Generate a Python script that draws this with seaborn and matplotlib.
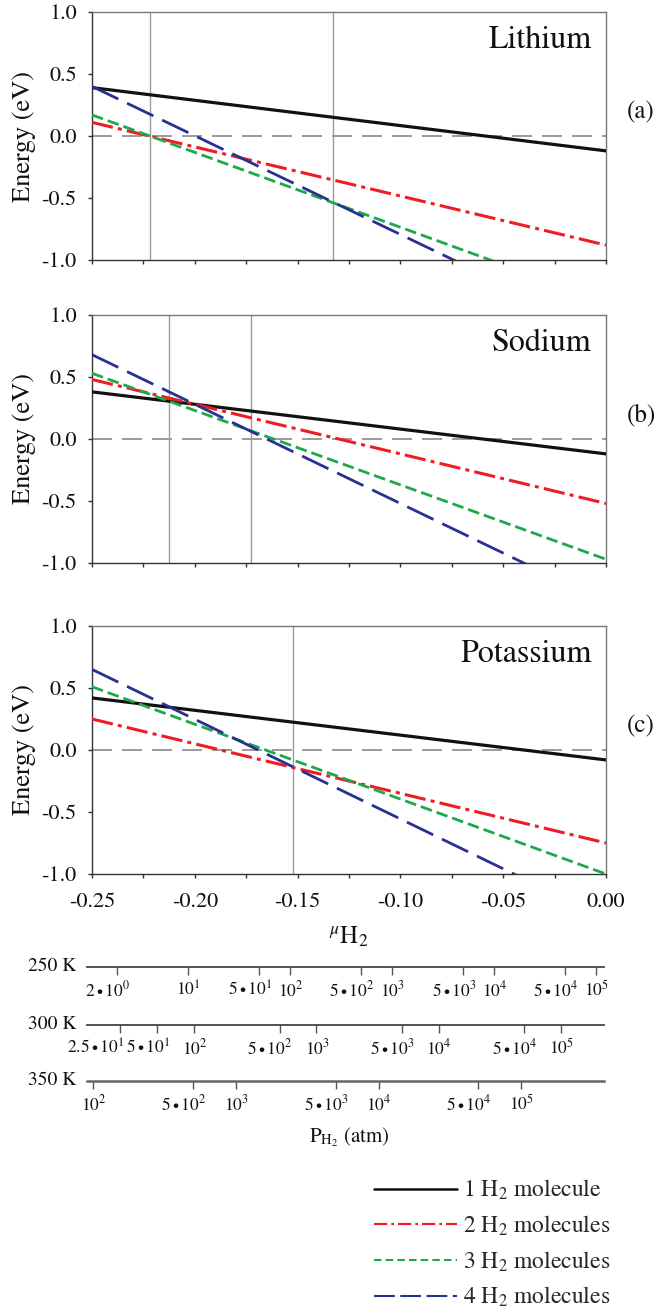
import matplotlib
matplotlib.use("Agg")
import matplotlib.pyplot as plt
import numpy as np
import pandas as pd
import seaborn as sns
from matplotlib.lines import Line2D
from matplotlib.ticker import FormatStrFormatter, MultipleLocator

# ---- data ----
MU_ENDS = [-0.25, 0.0]  # H2 chemical potential range (eV)
N_H2 = ["1", "2", "3", "4"]
SERIES_LABELS = [
    "1 H$_2$ molecule",
    "2 H$_2$ molecules",
    "3 H$_2$ molecules",
    "4 H$_2$ molecules",
]

# energies at mu = -0.25 and mu = 0.00 for n = 1..4
LI_START = [0.39, 0.11, 0.17, 0.40]
LI_END = [-0.12, -0.88, -1.34, -1.59]
NA_START = [0.38, 0.48, 0.53, 0.68]
NA_END = [-0.12, -0.52, -0.97, -1.32]
K_START = [0.42, 0.25, 0.51, 0.65]
K_END = [-0.08, -0.75, -1.00, -1.36]

# vertical markers (crossing points)
LI_CROSS = [-0.222, -0.133]
NA_CROSS = [-0.2125, -0.1725]
K_CROSS = [-0.152]

PANELS = [
    ("Lithium", "(a)", LI_START, LI_END, LI_CROSS),
    ("Sodium", "(b)", NA_START, NA_END, NA_CROSS),
    ("Potassium", "(c)", K_START, K_END, K_CROSS),
]

# pressure scales: mu = mu_ref + kT ln(P)
K_B = 8.617e-5
TEMPS = [250, 300, 350]
MU_REF = [-0.2529, -0.3194, -0.3884]
P250 = [2, 10, 50, 1e2, 5e2, 1e3, 5e3, 1e4, 5e4, 1e5]
P250_LABELS = [r"$2\bullet10^{0}$", r"$10^{1}$", r"$5\bullet10^{1}$", r"$10^{2}$",
               r"$5\bullet10^{2}$", r"$10^{3}$", r"$5\bullet10^{3}$", r"$10^{4}$",
               r"$5\bullet10^{4}$", r"$10^{5}$"]
P300 = [25, 50, 1e2, 5e2, 1e3, 5e3, 1e4, 5e4, 1e5]
P300_LABELS = [r"$2.5\bullet10^{1}$", r"$5\bullet10^{1}$", r"$10^{2}$",
               r"$5\bullet10^{2}$", r"$10^{3}$", r"$5\bullet10^{3}$", r"$10^{4}$",
               r"$5\bullet10^{4}$", r"$10^{5}$"]
P350 = [1e2, 5e2, 1e3, 5e3, 1e4, 5e4, 1e5]
P350_LABELS = [r"$10^{2}$", r"$5\bullet10^{2}$", r"$10^{3}$", r"$5\bullet10^{3}$",
               r"$10^{4}$", r"$5\bullet10^{4}$", r"$10^{5}$"]
P_TICKS = [P250, P300, P350]
P_LABELS = [P250_LABELS, P300_LABELS, P350_LABELS]

COLORS = ["#111111", "#EE1D25", "#1FA84A", "#27318F"]
STYLES = ["-", (0, (7, 1.7, 1.3, 1.7)), (0, (4.2, 1.8)), (0, (10.5, 3.5))]
WIDTHS = [2.3, 2.2, 2.0, 2.0]
# legend keys are drawn thinner with shorter dashes in the reference
LEG_STYLES = ["-", (0, (6, 1.8, 1.2, 1.8)), (0, (3.6, 2.0)), (0, (10, 2.6))]
LEG_WIDTHS = [1.8, 1.6, 1.5, 1.5]

# ---- layout helpers (pixel geometry of a 669x1307 canvas) ----
W, H = 669, 1307
X0, X1 = 92, 606


def fx(px):
    return px / W


def fy(py):
    return 1 - py / H


def px_to_mu(px):
    return -0.25 + (px - X0) / (X1 - X0) * 0.25


sns.set_theme(style="ticks")
plt.rcParams["font.family"] = ["STIXGeneral", "DejaVu Serif"]
plt.rcParams["mathtext.fontset"] = "stix"
plt.rcParams["axes.unicode_minus"] = False

fig = plt.figure(figsize=(W / 100, H / 100), dpi=100)

panel_tops = [12, 315, 626]
panel_h = 248

for i, (name, tag, e0, e1, cross) in enumerate(PANELS):
    top = panel_tops[i]
    ax = fig.add_axes([fx(X0), fy(top + panel_h), fx(X1 - X0), panel_h / H])
    df = pd.DataFrame({
        "mu": MU_ENDS * 4,
        "energy": [v for pair in zip(e0, e1) for v in pair],
        "n": [n for n in N_H2 for _ in MU_ENDS],
    })
    for j, n in enumerate(N_H2):
        sns.lineplot(data=df[df["n"] == n], x="mu", y="energy", ax=ax,
                     color=COLORS[j], linestyle=STYLES[j], lw=WIDTHS[j],
                     legend=False, zorder=3)
    ax.axhline(0, color="#8a8a8a", lw=1.2, dashes=(12, 6), zorder=1)
    for c in cross:
        ax.axvline(c, color="#9a9a9a", lw=1.0, zorder=1)

    ax.set_xlim(-0.25, 0.0)
    ax.set_ylim(-1.0, 1.0)
    ax.xaxis.set_major_locator(MultipleLocator(0.05))
    ax.xaxis.set_minor_locator(MultipleLocator(0.025))
    ax.yaxis.set_major_locator(MultipleLocator(0.5))
    ax.xaxis.set_major_formatter(FormatStrFormatter("%.2f"))
    ax.yaxis.set_major_formatter(FormatStrFormatter("%.1f"))
    ax.tick_params(axis="both", which="both", direction="out", length=3,
                   width=1, color="#333333", labelsize=16, labelcolor="#111111")
    ax.tick_params(axis="x", pad=10)
    ax.tick_params(axis="y", pad=8)
    if i < 2:
        ax.tick_params(axis="x", labelbottom=False)
    for side in ["left", "bottom"]:
        ax.spines[side].set_color("#333333")
        ax.spines[side].set_linewidth(1.0)
    for side in ["top", "right"]:
        ax.spines[side].set_visible(True)
        ax.spines[side].set_color("#777777")
        ax.spines[side].set_linewidth(1.0)
    ax.set_xlabel("")
    ax.set_ylabel("Energy (eV)", fontsize=19, color="#111111")
    ax.yaxis.set_label_coords(-0.108, 0.5)
    ax.text(0.972, 0.885, name, transform=ax.transAxes, ha="right",
            va="center", fontsize=23, color="#111111")
    ax.text(1.068, 0.595, tag, transform=ax.transAxes, ha="center",
            va="center", fontsize=18, color="#111111")

fig.text(fx(349), fy(938), r"$^{\mu}\mathrm{H}_{2}$", ha="center",
         va="center", fontsize=18, color="#111111")

# ---- pressure scales ----
line_y = [967, 1025, 1081]
line_col = ["#444444", "#444444", "#666666"]
line_w = [1.3, 1.3, 1.8]
P_L, P_R = 87, 604
for k, T in enumerate(TEMPS):
    axp = fig.add_axes([fx(P_L), fy(line_y[k]), fx(P_R - P_L), 0.0001])
    axp.set_facecolor("none")
    for side in ["top", "left", "right"]:
        axp.spines[side].set_visible(False)
    axp.spines["bottom"].set_color(line_col[k])
    axp.spines["bottom"].set_linewidth(line_w[k])
    axp.set_xlim(px_to_mu(P_L), px_to_mu(P_R))
    axp.set_yticks([])
    kT = K_B * T
    pos = [MU_REF[k] + kT * np.log(p) for p in P_TICKS[k]]
    axp.set_xticks(pos, [""] * len(pos))
    axp.tick_params(axis="x", direction="out", length=5.5, width=1.0,
                    color="#555555")
    # labels sit with the "10" under the tick, prefix hanging to the left
    for m, (x, lab) in enumerate(zip(pos, P_LABELS[k])):
        dx = 4 if (k == 1 and m == 0) else 13
        axp.annotate(lab, xy=(x, 0), xycoords=("data", "axes fraction"),
                     xytext=(dx, -23), textcoords="offset pixels",
                     ha="right", va="center", fontsize=12.5, color="#111111")
    fig.text(fx(76), fy(line_y[k] - 1), f"{T} K", ha="right", va="center",
             fontsize=14, color="#111111")

fig.text(fx(349), fy(1137), r"P$_{\mathrm{H_2}}$ (atm)", ha="center",
         va="center", fontsize=15, color="#111111")

handles = [Line2D([], [], color=c, linestyle=s, lw=w)
           for c, s, w in zip(COLORS, LEG_STYLES, LEG_WIDTHS)]
fig.legend(handles, SERIES_LABELS, loc="upper left",
           bbox_to_anchor=(fx(374), fy(1178)), frameon=False, fontsize=17,
           handlelength=3.5, handletextpad=0.25, labelspacing=0.48,
           borderpad=0, borderaxespad=0)

fig.savefig("out.png", dpi=100)
